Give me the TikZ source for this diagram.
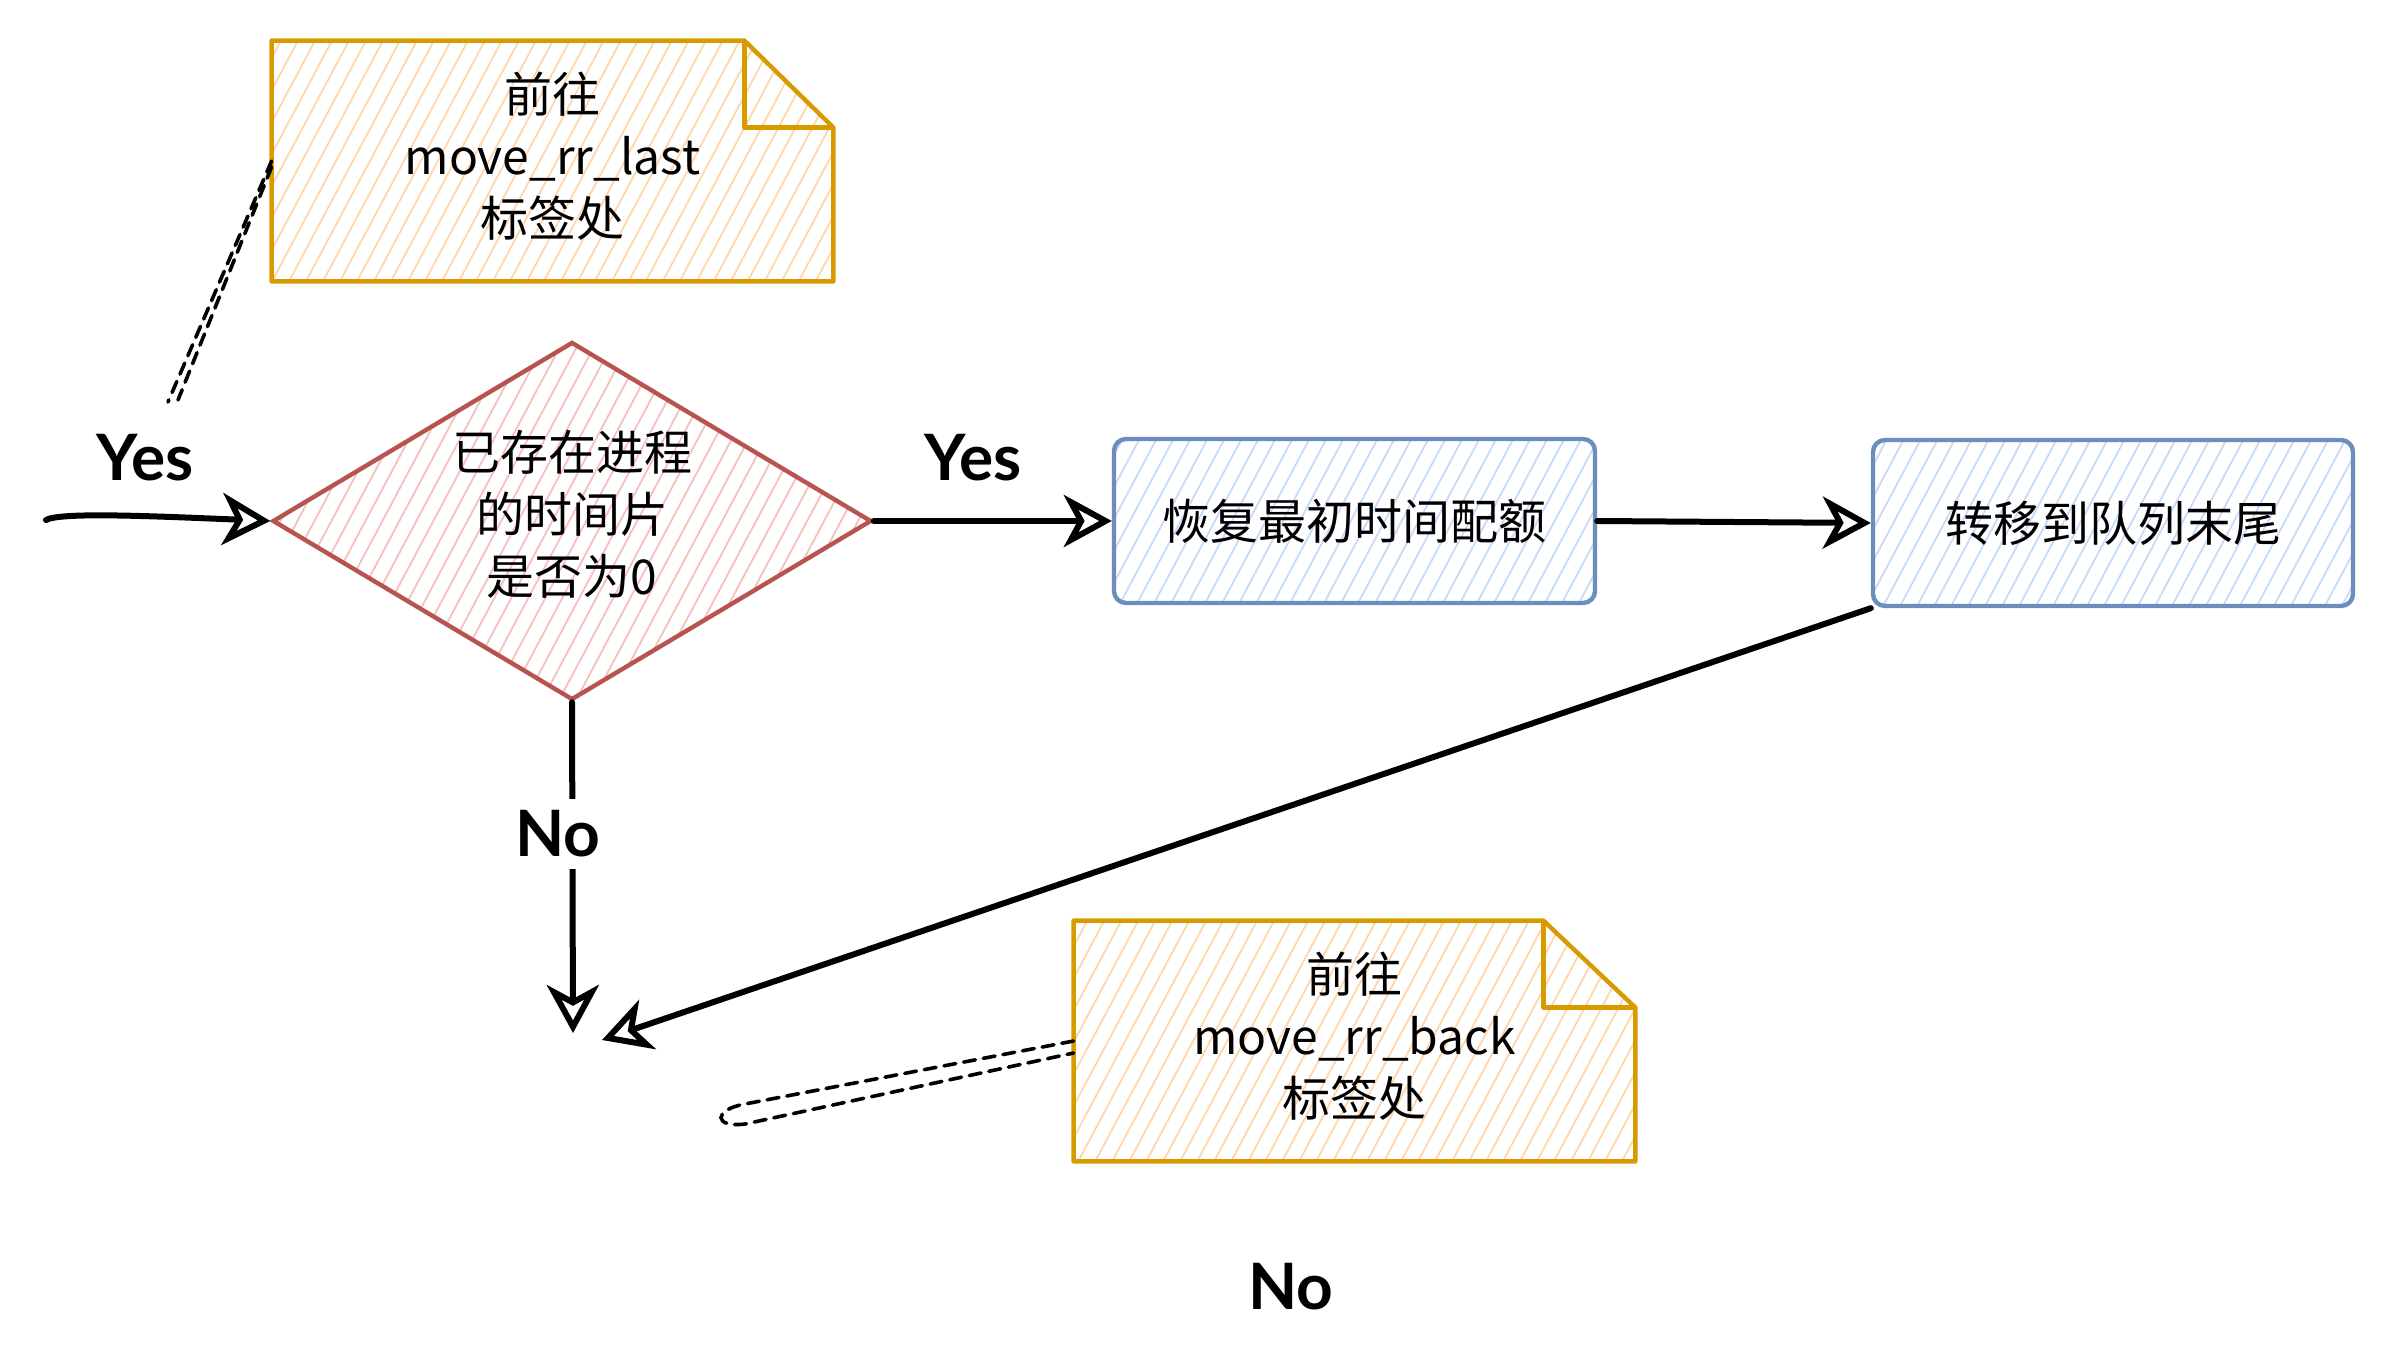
\documentclass[tikz,border=0pt]{standalone}
\usepackage{fontspec}
\setmainfont{Noto Sans CJK SC}
\newfontfamily\hand{Lato}
\usetikzlibrary{shapes.geometric,arrows.meta,patterns.meta,backgrounds}
\definecolor{noteline}{HTML}{D79B00}
\definecolor{notehatch}{HTML}{FFD6AA}
\definecolor{redline}{HTML}{B85450}
\definecolor{redhatch}{HTML}{F6BEBC}
\definecolor{blueline}{HTML}{6C8EBF}
\definecolor{bluehatch}{HTML}{C6DBF7}
\tikzset{
  txt/.style={font=\fontsize{24}{31}\selectfont, align=center, inner sep=0pt},
  lbl/.style={font=\hand\bfseries\fontsize{32}{36}\selectfont, inner sep=2pt},
  hatch/.style={pattern={Lines[angle=62,distance=7.5pt,line width=0.9pt]}},
  notebox/.style={inner sep=0pt, minimum width=280.5pt, minimum height=120pt},
  notedraw/.style={draw=noteline, line width=2.2pt, line join=round, hatch, pattern color=notehatch},
  foldline/.style={draw=noteline, line width=2.2pt, line join=round},
  decision/.style={shape=diamond, draw=redline, line width=2.2pt, aspect=1.67, inner sep=0pt,
    minimum width=299.5pt, minimum height=179pt, hatch, pattern color=redhatch},
  procbox/.style={txt, draw=blueline, line width=2.2pt, rounded corners=6pt,
    minimum width=240.5pt, minimum height=82pt, hatch, pattern color=bluehatch},
  arr/.style={line width=3pt, line cap=round, line join=round,
    -{Stealth[open,length=24pt,width=26pt,inset=7pt]}},
  dashln/.style={line width=1.8pt, line cap=round, dash pattern=on 6pt off 4pt}
}
\begin{document}
\begin{tikzpicture}[x=0.5pt,y=-0.5pt]
\useasboundingbox (0,0) rectangle (2396,1368);
% notes
\node[notebox] (n1) at (552.5,161) {};
\node[notebox] (n2) at (1354.5,1041) {};
\begin{scope}[on background layer]
  \draw[notedraw] (n1.north west) -- ([xshift=-44.5pt]n1.north east) -- ([yshift=-43.5pt]n1.north east) -- (n1.south east) -- (n1.south west) -- cycle;
  \draw[foldline] ([xshift=-44.5pt]n1.north east) -- ([xshift=-44.5pt,yshift=-43.5pt]n1.north east) -- ([yshift=-43.5pt]n1.north east);
  \draw[notedraw] (n2.north west) -- ([xshift=-46pt]n2.north east) -- ([yshift=-43.5pt]n2.north east) -- (n2.south east) -- (n2.south west) -- cycle;
  \draw[foldline] ([xshift=-46pt]n2.north east) -- ([xshift=-46pt,yshift=-43.5pt]n2.north east) -- ([yshift=-43.5pt]n2.north east);
\end{scope}
\node[txt] (n1t) at ([yshift=2.3pt]n1.center) {前往\\move\_rr\_last\\标签处};
\node[txt] (n2t) at ([yshift=2.3pt]n2.center) {前往\\move\_rr\_back\\标签处};
% decision and process boxes
\node[decision] (dia) at (572,521) {};
\node[txt] (diat) at ([yshift=3.5pt]dia.center) {已存在进程\\的时间片\\是否为0};
\node[procbox] (b1) at (1354.5,521) {恢复最初时间配额};
\node[procbox, minimum width=240pt, minimum height=83pt] (b2) at (2113,523) {转移到队列末尾};
% connectors
\coordinate (in) at (46,520);
\coordinate (m1) at (573,1033);
\coordinate (m2) at (602,1040);
\coordinate (d1) at (168,402);
\draw[arr] (in) .. controls (60,512) and (150,516) .. (dia.west);
\draw[arr] (dia.east) -- (b1.west);
\draw[arr] (b1.east) -- (b2.west);
\draw[arr] (dia.south) -- (m1);
\draw[arr] (b2.south west) -- (m2);
\draw[dashln] (n1.west) -- (d1);
\draw[dashln] ([yshift=-3pt]n1.west) -- ([xshift=5pt,yshift=1pt]d1);
\draw[dashln] (n2.west) -- (745,1104) .. controls (712,1110) and (714,1128) .. (745,1124) -- ([yshift=-6pt]n2.west);
% labels
\node[lbl] (yes1) at (145,458) {Yes};
\node[lbl] (yes2) at (973,458) {Yes};
\node[lbl, fill=white, inner ysep=6pt] (no1) at (558,834) {No};
\node[lbl] (no2) at (1291,1287) {No};
\end{tikzpicture}
\end{document}
